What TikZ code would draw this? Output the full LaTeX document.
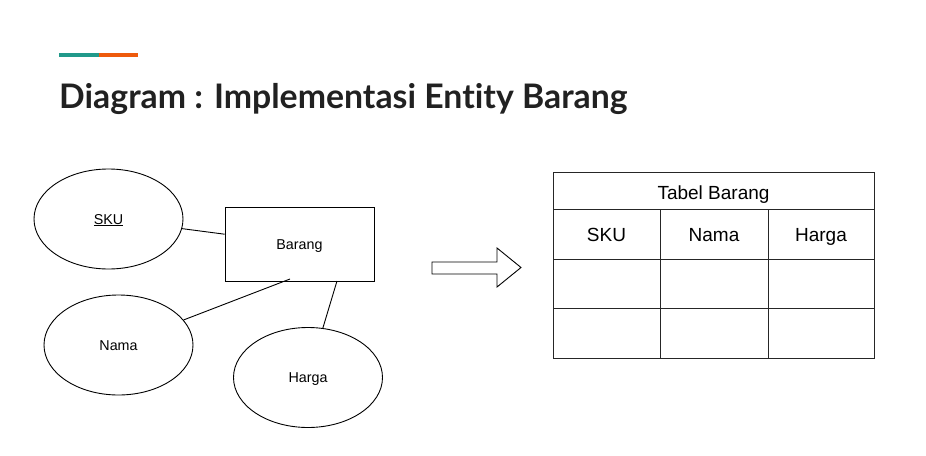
\documentclass[tikz,border=0pt]{standalone}
\usepackage{fontspec}
\setmainfont{Liberation Sans}
\newfontfamily\titlefont[Ligatures={NoCommon,NoRare}]{Lato}
\usetikzlibrary{shapes.geometric}
\definecolor{teal1}{HTML}{21998A}
\definecolor{orange1}{HTML}{EE5A0C}
\definecolor{titlegray}{HTML}{212121}
\tikzset{
  attr/.style={ellipse, draw=black, line width=0.9pt, minimum width=149pt, minimum height=100pt, inner sep=0pt, text height=10.2pt, text depth=0pt, font=\fontsize{14.3}{16}\selectfont},
  entity/.style={rectangle, draw=black, line width=0.9pt, minimum width=149pt, minimum height=74pt, inner sep=0pt, text height=10.2pt, text depth=0pt, font=\fontsize{14.3}{16}\selectfont},
  link/.style={line width=0.9pt, black},
  cell/.style={font=\fontsize{19}{22}\selectfont, inner sep=0pt, text height=13.6pt, text depth=0pt},
  grid/.style={line width=1pt, black!85}
}
\begin{document}
\begin{tikzpicture}[x=1pt,y=-1pt]
\useasboundingbox (0,0) rectangle (926,455);
% accent bar
\fill[teal1] (59,53) rectangle (99,57);
\fill[orange1] (99,53) rectangle (138,57);
% title
\node[anchor=base west, inner sep=0pt, text=titlegray, font=\titlefont\bfseries\fontsize{33.8}{38}\selectfont] (title) at (59,108) {Diagram : Implementasi Entity Barang};
% ER diagram
\node[attr] (sku) at (108.5,219) {\underline{SKU}};
\node[entity] (barang) at (299.5,244) {Barang};
\node[attr] (nama) at (118.5,345) {Nama};
\node[attr] (harga) at (308,377.5) {Harga};
\coordinate (nb) at (290,279);
\coordinate (hb) at (337,281);
\draw[link] (sku) -- (barang);
\draw[link] (nama) -- (nb);
\draw[link] (hb) -- (harga);
% block arrow
\draw[line width=0.9pt] (432,262) -- (497,262) -- (497,248) -- (521,267.5) -- (497,287) -- (497,274) -- (432,274) -- cycle;
% table
\draw[grid] (553,172) rectangle (874,358);
\draw[grid] (553,209) -- (874,209);
\draw[grid] (553,259) -- (874,259);
\draw[grid] (553,308) -- (874,308);
\draw[grid] (660,209) -- (660,358);
\draw[grid] (768,209) -- (768,358);
\node[cell] (tabel) at (713.5,193) {Tabel Barang};
\node[cell] (csku) at (606.5,234.5) {SKU};
\node[cell] (cnama) at (714,234.5) {Nama};
\node[cell] (charga) at (821,234.5) {Harga};
\end{tikzpicture}
\end{document}
